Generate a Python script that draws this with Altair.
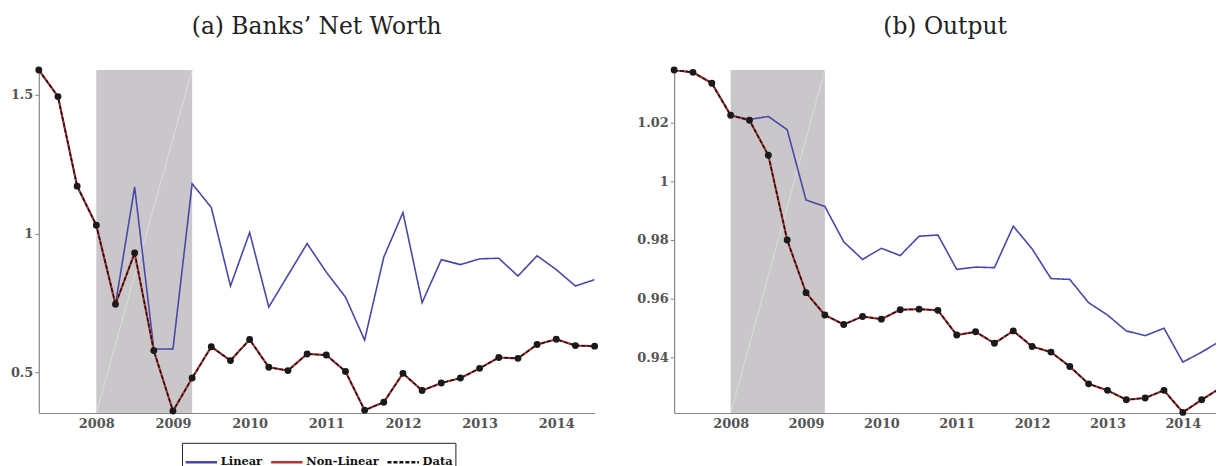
import altair as alt
import pandas as pd

quarters = [2007.25, 2007.5, 2007.75, 2008.0, 2008.25, 2008.5, 2008.75, 2009.0,
            2009.25, 2009.5, 2009.75, 2010.0, 2010.25, 2010.5, 2010.75, 2011.0,
            2011.25, 2011.5, 2011.75, 2012.0, 2012.25, 2012.5, 2012.75, 2013.0,
            2013.25, 2013.5, 2013.75, 2014.0, 2014.25, 2014.5]

nw_linear = [1.59, 1.494, 1.171, 1.03, 0.745, 1.168, 0.584, 0.584, 1.18, 1.094,
             0.811, 1.004, 0.735, 0.85, 0.964, 0.861, 0.771, 0.616, 0.915, 1.076,
             0.751, 0.906, 0.888, 0.909, 0.911, 0.847, 0.92, 0.870, 0.811, 0.834]
nw_nonlinear = [1.59, 1.494, 1.171, 1.03, 0.745, 0.930, 0.578, 0.36, 0.479, 0.592,
                0.542, 0.618, 0.518, 0.506, 0.566, 0.562, 0.503, 0.363, 0.392, 0.496,
                0.434, 0.461, 0.479, 0.514, 0.553, 0.550, 0.600, 0.619, 0.596, 0.594]
nw_data = [1.59, 1.494, 1.171, 1.03, 0.745, 0.930, 0.578, 0.36, 0.479, 0.592,
           0.542, 0.618, 0.518, 0.506, 0.566, 0.562, 0.503, 0.363, 0.392, 0.496,
           0.434, 0.461, 0.479, 0.514, 0.553, 0.550, 0.600, 0.619, 0.596, 0.594]

out_linear = [1.0378, 1.0370, 1.0333, 1.0224, 1.0210, 1.0220, 1.0175, 0.9936, 0.9914, 0.9794,
              0.9734, 0.9772, 0.9747, 0.9813, 0.9817, 0.9700, 0.9708, 0.9706, 0.9847, 0.9770,
              0.9669, 0.9666, 0.9587, 0.9545, 0.9491, 0.9475, 0.9500, 0.9385, 0.9419, 0.9457]
out_nonlinear = [1.0378, 1.0370, 1.0333, 1.0224, 1.0207, 1.0088, 0.9800, 0.9621, 0.9545, 0.9513,
                 0.9540, 0.9531, 0.9563, 0.9565, 0.9561, 0.9477, 0.9488, 0.9449, 0.9491, 0.9438,
                 0.9419, 0.9370, 0.9311, 0.9289, 0.9257, 0.9263, 0.9289, 0.9214, 0.9257, 0.9297]
out_data = [1.0378, 1.0370, 1.0333, 1.0224, 1.0207, 1.0088, 0.9800, 0.9621, 0.9545, 0.9513,
            0.9540, 0.9531, 0.9563, 0.9565, 0.9561, 0.9477, 0.9488, 0.9449, 0.9491, 0.9438,
            0.9419, 0.9370, 0.9311, 0.9289, 0.9257, 0.9263, 0.9289, 0.9214, 0.9257, 0.9297]

years = [2008, 2009, 2010, 2011, 2012, 2013, 2014]
nw_ticks = [0.5, 1, 1.5]
out_ticks = [0.94, 0.96, 0.98, 1, 1.02]
shade_span = [2008.0, 2009.25]

series_names = ["Linear", "Non-Linear", "Data"]
series_colors = ["#4848a8", "#b23636", "#111111"]
series_dash = [[1, 0], [1, 0], [4, 2]]
series_width = [1.6, 2.2, 1.4]

FONT = "DejaVu Serif"
PLOT_H = 345


def make_panel(title, lin, nonlin, dat, xdom, ydom, yticks, width, yext, legend_x):
    xs = alt.Scale(domain=xdom, nice=False, zero=False)
    ys = alt.Scale(domain=ydom, nice=False, zero=False)
    x_axis = alt.Axis(values=years, format="d", title=None, ticks=False, grid=False,
                      labelPadding=5, domainColor="#888", labelFlush=False)
    y_axis = alt.Axis(values=yticks, format="~g", title=None, ticks=True, tickSize=4,
                      tickColor="#888", grid=False, labelPadding=2, domainColor="#888",
                      minExtent=yext, maxExtent=yext)

    def X(f):
        return alt.X(f, scale=xs, axis=x_axis, title=None)

    def Y(f):
        return alt.Y(f, scale=ys, axis=y_axis, title=None)

    shade_df = pd.DataFrame({"x0": [shade_span[0]], "x1": [shade_span[1]]})
    rect = alt.Chart(shade_df).mark_rect(color="#c9c7c9").encode(
        x=X("x0:Q"), x2="x1:Q", y=alt.datum(ydom[1]), y2=alt.datum(ydom[0])
    )
    diag_df = pd.DataFrame({"t": shade_span, "v": [ydom[0], ydom[1]]})
    diag = alt.Chart(diag_df).mark_line(color="#dddbdd", strokeWidth=1).encode(
        x=X("t:Q"), y=Y("v:Q")
    )

    legend = alt.Legend(
        title=None, orient="none", legendX=legend_x, legendY=375, direction="horizontal",
        strokeColor="#222", padding=2, symbolType="stroke", symbolStrokeWidth=2.5,
        symbolSize=1000, labelFont=FONT, labelFontSize=11.5, labelFontWeight="bold",
        labelColor="#111", columnPadding=3, labelOffset=2,
    )
    cscale = alt.Scale(domain=series_names, range=series_colors)
    dscale = alt.Scale(domain=series_names, range=series_dash)

    layers = [rect, diag]
    for name, vals, sw in zip(series_names, [lin, nonlin, dat], series_width):
        df = pd.DataFrame({"t": quarters, "v": vals, "s": name})
        layers.append(
            alt.Chart(df).mark_line(strokeWidth=sw, clip=True).encode(
                x=X("t:Q"), y=Y("v:Q"),
                color=alt.Color("s:N", scale=cscale, legend=legend, title=None),
                strokeDash=alt.StrokeDash("s:N", scale=dscale, legend=legend, title=None),
            )
        )
    pts_df = pd.DataFrame({"t": quarters, "v": dat})
    pts = alt.Chart(pts_df).mark_point(filled=True, size=48, opacity=1).encode(
        x=X("t:Q"), y=Y("v:Q"), color=alt.value("#1a1a1a")
    ).transform_filter(f"datum.t <= {xdom[1]}")
    layers.append(pts)

    return alt.layer(*layers).properties(
        width=width, height=PLOT_H,
        title=alt.TitleParams(title, anchor="middle", offset=28.5, font=FONT,
                              fontSize=23.5, fontWeight="normal", color="#222"),
    )


left = make_panel("(a) Banks\u2019 Net Worth", nw_linear, nw_nonlinear, nw_data,
                  [2007.25, 2014.5], [0.353, 1.59], nw_ticks, 559, 25, 144)
right = make_panel("(b) Output", out_linear, out_nonlinear, out_data,
                   [2007.25, 2014.44], [0.9212, 1.0378], out_ticks, 545, 34, 137)

chart = alt.hconcat(left, right, spacing=80, bounds="flush").properties(
    padding={"left": 2, "top": 5, "right": 0, "bottom": 0}
).configure_view(stroke=None).configure_axis(
    labelFont=FONT, labelFontSize=13, labelFontWeight="bold", labelColor="#555",
    domainWidth=1.2
)

chart.save("out.html", embed_options={"renderer": "svg", "actions": False})
